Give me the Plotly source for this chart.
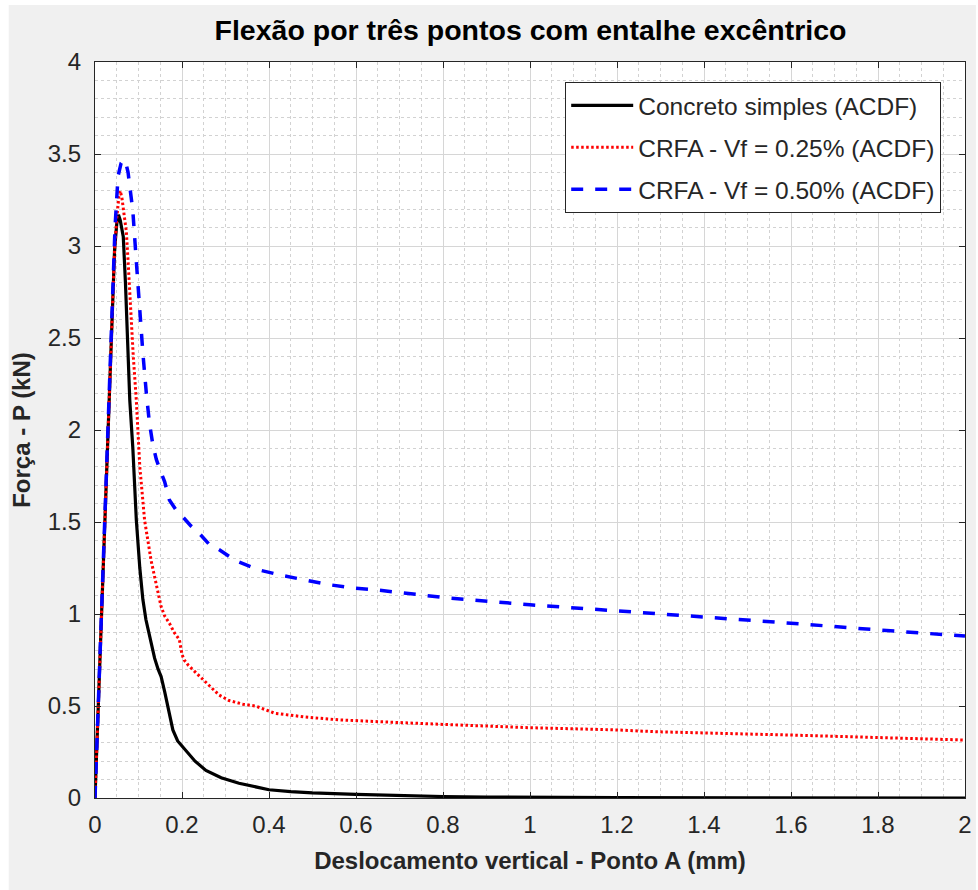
import plotly.graph_objects as go

# Curvas força x deslocamento (ACDF)
x_simples = [0, 0.015, 0.030, 0.045, 0.050, 0.054, 0.058, 0.065, 0.070, 0.075, 0.080,
             0.087, 0.095, 0.103, 0.110, 0.117, 0.122, 0.130, 0.137, 0.145, 0.152,
             0.160, 0.170, 0.179, 0.190, 0.209, 0.230, 0.255, 0.290, 0.331, 0.370,
             0.40, 0.45, 0.50, 0.60, 0.70, 0.80, 0.90, 1.00, 1.20, 1.50, 2.00]
y_simples = [0, 1.0, 2.05, 2.98, 3.12, 3.17, 3.14, 3.05, 2.80, 2.50, 2.16,
             1.90, 1.51, 1.25, 1.08, 0.97, 0.92, 0.84, 0.76, 0.70, 0.66,
             0.58, 0.46, 0.37, 0.31, 0.26, 0.20, 0.15, 0.11, 0.08, 0.06,
             0.045, 0.035, 0.028, 0.02, 0.013, 0.008, 0.005, 0.003, 0.002, 0.001, 0.0]

x_vf025 = [0, 0.015, 0.030, 0.045, 0.050, 0.055, 0.058, 0.062, 0.068, 0.072, 0.076,
           0.082, 0.088, 0.095, 0.099, 0.103, 0.114, 0.129, 0.140, 0.152, 0.160,
           0.171, 0.182, 0.194, 0.200, 0.205, 0.215, 0.232, 0.262, 0.285, 0.308,
           0.340, 0.369, 0.414, 0.45, 0.483, 0.559, 0.604, 0.65, 0.80, 1.00,
           1.20, 1.29, 1.60, 2.00]
y_vf025 = [0, 1.0, 2.05, 2.98, 3.15, 3.27, 3.30, 3.26, 3.15, 3.08, 2.92,
           2.65, 2.40, 2.16, 1.96, 1.80, 1.51, 1.29, 1.17, 1.04, 0.99,
           0.95, 0.90, 0.86, 0.78, 0.75, 0.72, 0.68, 0.61, 0.56, 0.53,
           0.51, 0.50, 0.46, 0.45, 0.44, 0.425, 0.422, 0.415, 0.40, 0.382,
           0.37, 0.36, 0.342, 0.315]

x_vf050 = [0, 0.015, 0.030, 0.046, 0.053, 0.060, 0.066, 0.071, 0.076, 0.082, 0.087,
           0.094, 0.103, 0.110, 0.118, 0.125, 0.133, 0.141, 0.150, 0.160, 0.171,
           0.185, 0.201, 0.220, 0.239, 0.262, 0.285, 0.323, 0.376, 0.429, 0.483,
           0.536, 0.597, 0.65, 0.80, 1.00, 1.20, 1.32, 1.60, 1.82, 2.00]
y_vf050 = [0, 1.0, 2.05, 3.10, 3.38, 3.45, 3.47, 3.45, 3.40, 3.28, 3.19,
           2.95, 2.64, 2.42, 2.20, 2.04, 1.92, 1.84, 1.78, 1.72, 1.62,
           1.57, 1.53, 1.48, 1.44, 1.38, 1.35, 1.29, 1.24, 1.21, 1.185,
           1.16, 1.14, 1.13, 1.09, 1.05, 1.017, 0.998, 0.95, 0.91, 0.88]

nomes = ["Concreto simples (ACDF)", "CRFA - Vf = 0.25% (ACDF)", "CRFA - Vf = 0.50% (ACDF)"]

x_ticks = [0, 0.2, 0.4, 0.6, 0.8, 1, 1.2, 1.4, 1.6, 1.8, 2]
x_ticktext = ["0", "0.2", "0.4", "0.6", "0.8", "1", "1.2", "1.4", "1.6", "1.8", "2"]
y_ticks = [0, 0.5, 1, 1.5, 2, 2.5, 3, 3.5, 4]
y_ticktext = ["0", "0.5", "1", "1.5", "2", "2.5", "3", "3.5", "4"]

FONT = "Arial, Liberation Sans, Helvetica, sans-serif"
AX = "#262626"

fig = go.Figure()
fig.add_trace(go.Scatter(x=x_simples, y=y_simples, mode="lines", name=nomes[0],
                         legendgroup="a",
                         line=dict(color="black", width=3.2)))
fig.add_trace(go.Scatter(x=x_vf025, y=y_vf025, mode="lines", name=nomes[1],
                         legendgroup="b",
                         line=dict(color="#ff0000", width=3, dash="2.5px,2.5px")))
fig.add_trace(go.Scatter(x=x_vf050, y=y_vf050, mode="lines", name=nomes[2],
                         legendgroup="c",
                         line=dict(color="#0000ff", width=3.5, dash="12px,12px")))

# Figure area: MATLAB-like grey panel and white axes box
L, R, T, B = 95, 6, 62, 92
W, H = 978, 890
pw, ph = W - L - R, H - T - B
def px(xp):
    return (xp - L) / pw
def py(yp):
    return (H - B - yp) / ph

fig.add_shape(type="rect", xref="paper", yref="paper", layer="below",
              x0=px(8), x1=px(W + 5), y0=py(H + 5), y1=py(5),
              fillcolor="#f0f0f0", line=dict(width=0))
fig.add_shape(type="rect", xref="paper", yref="paper", layer="below",
              x0=0, x1=1, y0=0, y1=1, fillcolor="white", line=dict(width=0))

axis_common = dict(
    showline=True, linecolor=AX, linewidth=1.2, mirror="allticks",
    ticks="inside", ticklen=6, tickcolor=AX, tickwidth=1.2,
    showgrid=True, gridcolor="#d6d6d6", gridwidth=1,
    zeroline=False, ticklabeloverflow="allow",
    tickfont=dict(family=FONT, size=24, color=AX),
    title_font=dict(family=FONT, size=24, color=AX),
)
minor_grid = dict(showgrid=True, gridcolor="#d2d2d2", griddash="3px,3px",
                  gridwidth=1, ticks="")

fig.update_xaxes(range=[0, 2], tickvals=x_ticks, ticktext=x_ticktext,
                 minor=dict(dtick=0.05, **minor_grid),
                 title_text="<b>Deslocamento vertical - Ponto A (mm)</b>",
                 title_standoff=15, ticklabelstandoff=5,
                 **axis_common)
fig.update_yaxes(range=[0, 4], tickvals=y_ticks, ticktext=y_ticktext,
                 minor=dict(dtick=0.1, **minor_grid),
                 title_text="<b>Força - P (kN)</b>",
                 title_standoff=10, ticklabelstandoff=8,
                 **axis_common)

fig.update_layout(
    width=W, height=H,
    margin=dict(l=L, r=R, t=T, b=B),
    paper_bgcolor="white", plot_bgcolor="white",
    title=dict(text="<b>Flexão por três pontos com entalhe excêntrico</b>",
               x=px(534), xanchor="center", xref="paper",
               y=1 - 30 / H, yanchor="middle", yref="container",
               font=dict(family=FONT, size=28.5, color="black")),
    legend=dict(x=px(948), y=py(82), xanchor="right", yanchor="top",
                bgcolor="white", bordercolor=AX, borderwidth=1,
                font=dict(family=FONT, size=24.5, color=AX),
                itemwidth=62,
                tracegroupgap=7, traceorder="grouped"),
    showlegend=True,
)

fig.write_html("out.html")
